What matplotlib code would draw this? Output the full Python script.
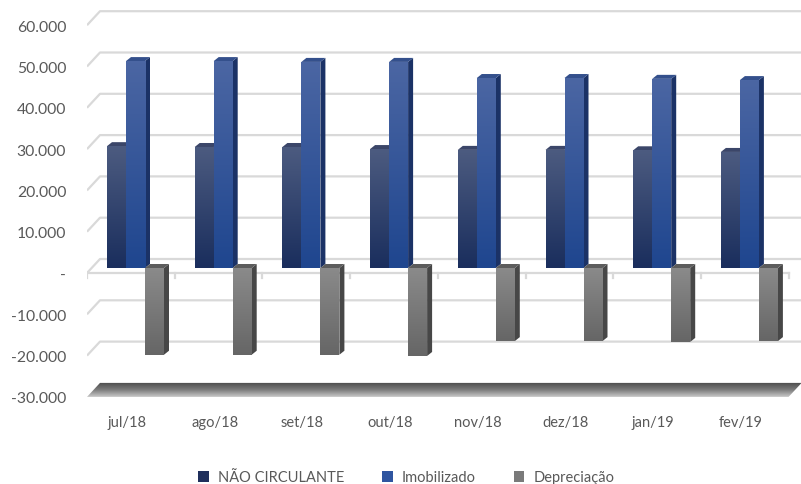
import numpy as np
import matplotlib
matplotlib.use("Agg")
import matplotlib.pyplot as plt
from matplotlib.patches import Polygon, Patch

plt.rcParams['font.family'] = ['Lato', 'DejaVu Sans']

# data
meses = ['jul/18', 'ago/18', 'set/18', 'out/18', 'nov/18', 'dez/18', 'jan/19', 'fev/19']
nao_circulante = [29500, 29300, 29300, 28800, 28600, 28600, 28500, 28100]
imobilizado = [50100, 50100, 49900, 49900, 46000, 46000, 45800, 45500]
depreciacao = [-21000, -21000, -21000, -21300, -17700, -17700, -17900, -17700]

series = [nao_circulante, imobilizado, depreciacao]
nomes = ['NÃO CIRCULANTE', 'Imobilizado', 'Depreciação']
# (top, bottom, side, topface)
cores = [('#4c5b80', '#1a2e5d', '#27355a', '#3b4669'),
         ('#4b66a3', '#1f468f', '#1b3266', '#34508c'),
         ('#8a8a8a', '#666666', '#474747', '#5c5c5c')]
legend_cores = ['#1f2f5c', '#2f55a0', '#7a7a7a']

# pixel scales from the reference
px_cat = 87.7
px_val = 41.3 / 10000
W, H = 801, 485

def dxp(p):
    return p / px_cat

def dyp(p):
    return p / px_val

fig = plt.figure(figsize=(W / 100, H / 100), dpi=100)
top_px, bot_px, left_px = 10, 405, 87
ax = fig.add_axes([left_px / W, 1 - bot_px / H, (W - left_px) / W, (bot_px - top_px) / H])
xmin, xmax = -0.5, -0.5 + (W - left_px) / px_cat
ymin, ymax = dyp(-(bot_px - 274)), dyp(274 - top_px)

grid_c = '#d9d9d9'
bdx, bdy = dxp(13), dyp(14)   # depth of back wall

# back wall gridlines with left diagonal
for v in range(-20000, 60001, 10000):
    ax.plot([xmin, xmin + bdx, xmax], [v, v + bdy, v + bdy], color=grid_c, lw=1.6, zorder=1,
            solid_capstyle='butt')
# front floor edge at zero with ticks
ax.plot([xmin, 7.5], [0, 0], color=grid_c, lw=1.6, zorder=1)
for j in range(9):
    ax.plot([j - 0.5, j - 0.5], [0, dyp(-5)], color=grid_c, lw=1.6, zorder=1)

# floor at -30000
fv = -30000
floor = Polygon([(xmin, fv), (7.5, fv), (7.5 + bdx, fv + bdy), (xmin + bdx, fv + bdy)],
                closed=True, facecolor='none', edgecolor='none')
ax.add_patch(floor)
grad = np.linspace(0, 1, 64).reshape(-1, 1)
floor_cmap = matplotlib.colors.LinearSegmentedColormap.from_list('fl', ['#c8c8c8', '#7a7a7a', '#4a4a4a'])
im = ax.imshow(grad, extent=(xmin, 7.5 + bdx, fv, fv + bdy), origin='lower', cmap=floor_cmap,
               aspect='auto', zorder=2, interpolation='bilinear')
im.set_clip_path(floor)

# bars
bw = dxp(19)
x0 = -0.5 + dxp(107 - 87)
by = dyp(5)
sdx, sdy = dxp(5), dyp(4)
for i in range(len(meses)):
    for k, vals in enumerate(series):
        v = vals[i]
        c_top, c_bot, c_side, c_tf = cores[k]
        xl = i + x0 + k * bw
        xr = xl + bw
        y_lo, y_hi = (by, by + v) if v >= 0 else (by + v, by)
        z = 5 + i * 3 + k * 0.5
        # side face
        ax.add_patch(Polygon([(xr, y_lo), (xr + sdx, y_lo + sdy), (xr + sdx, y_hi + sdy), (xr, y_hi)],
                             closed=True, facecolor=c_side, edgecolor='none', zorder=z))
        # top face
        ax.add_patch(Polygon([(xl, y_hi), (xl + sdx, y_hi + sdy), (xr + sdx, y_hi + sdy), (xr, y_hi)],
                             closed=True, facecolor=c_tf, edgecolor='none', zorder=z))
        # front face
        b = ax.bar(xl, v, width=bw, bottom=by, align='edge', color=c_bot, zorder=z + 0.1)[0]
        cm = matplotlib.colors.LinearSegmentedColormap.from_list('b%d' % k, [c_bot, c_top])
        gi = ax.imshow(grad, extent=(xl, xr, y_lo, y_hi), origin='lower', cmap=cm, aspect='auto',
                       zorder=z + 0.2, interpolation='bilinear')
        gi.set_clip_path(b)

ax.set_xlim(xmin, xmax)
ax.set_ylim(ymin, ymax)

yt = list(range(-30000, 60001, 10000))
ylabels = ['-' if t == 0 else '{:,}'.format(t).replace(',', '.') for t in yt]
ax.set_yticks(yt)
ax.set_yticklabels(ylabels)
ax.set_xticks([i - 0.045 for i in range(len(meses))])
ax.set_xticklabels(meses)
ax.tick_params(axis='both', length=0, colors='#595959')
ax.tick_params(axis='y', pad=15, labelsize=11.3)
ax.tick_params(axis='x', pad=8, labelsize=10.5)
for s in ax.spines.values():
    s.set_visible(False)

handles = [Patch(facecolor=c, edgecolor='none') for c in legend_cores]
fig.legend(handles, nomes, loc='lower center', bbox_to_anchor=(0.507, -0.028), ncol=3, frameon=False,
           fontsize=10.5, labelcolor='#595959', handlelength=0.75, handleheight=0.75,
           handletextpad=0.6, columnspacing=2.6)

fig.savefig('out.png', dpi=100)
